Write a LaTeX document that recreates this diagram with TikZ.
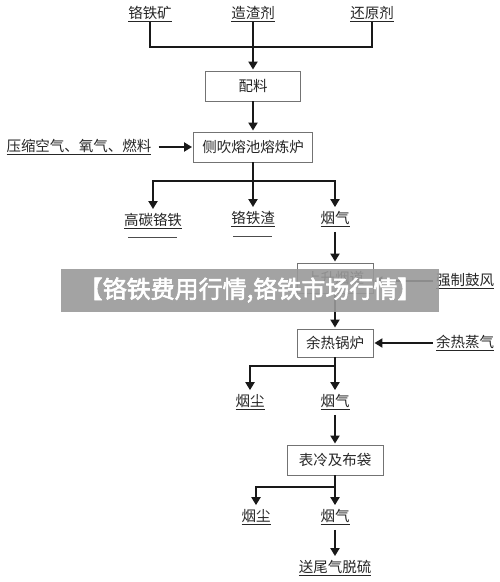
\documentclass[tikz,border=0pt]{standalone}
\usepackage{fontspec}
\newfontfamily\cjk{Noto Sans CJK SC}
\newfontfamily\cjkb[FakeBold=2.5]{Noto Sans CJK SC}
\usetikzlibrary{arrows.meta}
\begin{document}
\begin{tikzpicture}[x=1pt,y=-1pt,
  lbl/.style={font=\cjk\fontsize{14.5}{15}\selectfont, text=black!85, inner sep=3pt},
  pbox/.style={draw=black!55, line width=0.9pt, font=\cjk\fontsize{14.5}{15}\selectfont, text=black!85, minimum height=30pt, inner sep=0pt},
  conn/.style={line width=2.6pt, black!90},
  arr/.style={conn, -{Triangle[length=8pt,width=9pt]}, shorten >=1pt},
  ul/.style={line width=0.8pt, black!70}]
\useasboundingbox (0,0) rectangle (500,582);
\fill[white] (0,0) rectangle (500,582);
% top inputs
\node[lbl] (kuang) at (150,14) {\underline{铬铁矿}};
\node[lbl] (zha) at (253,14) {\underline{造渣剂}};
\node[lbl] (huan) at (372,14) {\underline{还原剂}};
\coordinate (j1) at (253,50);
\node[pbox, minimum width=95pt] (pei) at (253,86) {配料};
\draw[conn] ([yshift=3pt]kuang.south) |- ([yshift=3pt]huan.south |- j1) -- ([yshift=3pt]huan.south);
\draw[conn] ([yshift=3pt]zha.south) -- (j1);
\draw[arr] (j1) -- (pei.north);
% furnace
\node[pbox, minimum width=119pt] (lu) at (253,147) {侧吹熔池熔炼炉};
\draw[arr] (pei.south) -- (lu.north);
\node[lbl] (gas) at (79,147) {\underline{压缩空气、氧气、燃料}};
\draw[arr] ([xshift=4pt]gas.east) -- (lu.west);
% outputs
\coordinate (j2) at (253,181);
\node[lbl] (gt) at (153,221) {\underline{高碳铬铁}};
\node[lbl] (zhaa) at (253,219) {\underline{铬铁渣}};
\node[lbl] (yq1) at (335,219) {\underline{烟气}};
\draw[conn] (lu.south) -- (j2);
\draw[arr] (j2) -| (gt.north);
\draw[arr] (j2) -- (zhaa.north);
\draw[arr] (j2) -| (yq1.north);
\draw[ul] (128,237) -- (177,237);
\draw[ul] (233,236) -- (272,236);
% flue
\node[pbox, minimum width=76pt] (yd) at (335,278) {上升烟道};
\draw[arr] ([yshift=-2pt]yq1.south) -- (yd.north);
\node[lbl] (gf) at (465,281) {\underline{强制鼓风}};
\draw[arr] (gf.west) -- (yd.east |- gf.west);
% boiler
\node[pbox, minimum width=76pt, minimum height=28pt] (gl) at (335,343) {余热锅炉};
\draw[arr] (yd.south) -- (gl.north);
\node[lbl] (zq) at (465,343) {\underline{余热蒸气}};
\draw[arr] (zq.west) -- (gl.east);
\coordinate (j3) at (335,366);
\node[lbl] (yc1) at (250,402) {\underline{烟尘}};
\node[lbl] (yq2) at (335,402) {\underline{烟气}};
\draw[conn] (gl.south) -- (j3);
\draw[arr] (j3) -| (yc1.north);
\draw[arr] (j3) -- (yq2.north);
% bag filter
\node[pbox, minimum width=96pt] (bd) at (335,460) {表冷及布袋};
\draw[arr] ([yshift=-2pt]yq2.south) -- (bd.north);
\coordinate (j4) at (335,487);
\node[lbl] (yc2) at (256,517) {\underline{烟尘}};
\node[lbl] (yq3) at (335,517) {\underline{烟气}};
\draw[conn] (bd.south) -- (j4);
\draw[arr] (j4) -| (yc2.north);
\draw[arr] (j4) -- (yq3.north);
\node[lbl] (tail) at (335,568) {\underline{送尾气脱硫}};
\draw[arr] ([yshift=-2pt]yq3.south) -- (tail.north);
% watermark banner
\fill[black!40, opacity=0.9] (61,269) rectangle (439,312);
\node[font=\cjkb\fontsize{24}{25}\selectfont, text=white, inner sep=0pt] (wm) at (250,290) {【铬铁费用行情,铬铁市场行情】};
\end{tikzpicture}
\end{document}
